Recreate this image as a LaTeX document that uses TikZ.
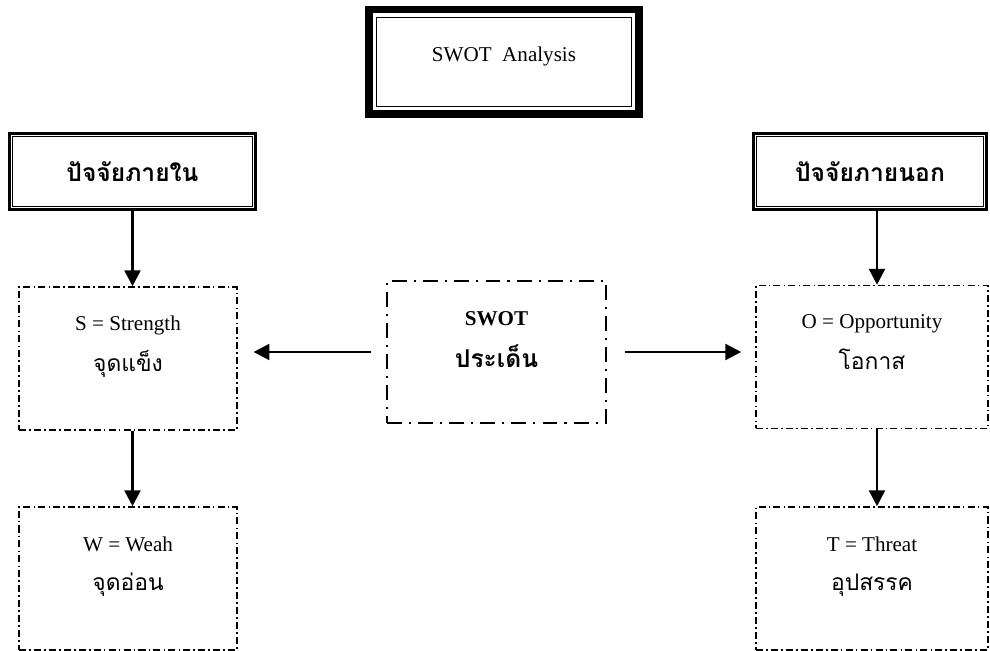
\documentclass[tikz,border=0pt]{standalone}
\usepackage{fontspec}
\setmainfont{Liberation Serif}
\newfontfamily\thaifont[Script=Thai]{Loma}
\newcommand{\thaibig}[1]{{\thaifont\fontsize{13}{15}\selectfont #1}}
\usetikzlibrary{arrows.meta,positioning}

\begin{document}
\begin{tikzpicture}[x=0.02cm, y=-0.02cm, font=\fontsize{12}{14}\selectfont]
    \tikzstyle{titlebox} = [rectangle, draw, line width=0.9pt, minimum width=5.1cm,
                            minimum height=1.78cm, text depth=8.5pt]
    \tikzstyle{header} = [rectangle, draw, line width=1.7pt, minimum height=1.52cm,
                          font=\thaifont\bfseries\fontsize{14}{16}\selectfont]
    \tikzstyle{factor} = [rectangle, draw, line width=0.9pt, align=center,
                          dash pattern=on 4pt off 1.8pt on 0.9pt off 1.8pt,
                          minimum height=2.86cm, text depth=17pt]
    \tikzstyle{issue} = [factor, line width=1.6pt, font=\bfseries\fontsize{12}{14}\selectfont,
                         dash pattern=on 8.5pt off 4pt on 1.2pt off 4pt]
    \tikzstyle{arrow} = [-{Triangle[length=9pt, width=9pt]}, line width=1.5pt]

    \useasboundingbox (0,0) rectangle (990,651);

    % Title
    \node[titlebox] (heading) at (504,62) {SWOT\ \ Analysis};
    \draw[line width=4.3pt] ([shift={(-7,7)}]heading.south west) rectangle ([shift={(7,-7)}]heading.north east);

    % Factor headers
    \node[header, minimum width=4.92cm] (inner) at (132.5,171.5) {ปัจจัยภายใน};
    \node[header, minimum width=4.66cm] (outer) at (870,171.5) {ปัจจัยภายนอก};
    \draw[line width=0.7pt] ([shift={(4.6,-4.6)}]inner.south west) rectangle ([shift={(-4.6,4.6)}]inner.north east);
    \draw[line width=0.7pt] ([shift={(4.6,-4.6)}]outer.south west) rectangle ([shift={(-4.6,4.6)}]outer.north east);

    % SWOT boxes
    \node[factor, minimum width=4.36cm] (strength) at (128,358.5) {S = Strength\\[8pt]\thaibig{จุดแข็ง}};
    \node[factor, minimum width=4.36cm] (weakness) at (128,578.5) {W = Weah\\[8pt]\thaibig{จุดอ่อน}};
    \node[factor, minimum width=4.64cm] (opportunity) at (872,357) {O = Opportunity\\[8pt]\thaibig{โอกาส}};
    \node[factor, minimum width=4.64cm] (threat) at (872,578.5) {T = Threat\\[8pt]\thaibig{อุปสรรค}};
    \node[issue, minimum width=4.38cm, minimum height=2.84cm, text depth=14pt] (issue) at (496.5,352)
        {SWOT\\[10pt]{\thaifont\bfseries\fontsize{14}{16}\selectfont ประเด็น}};

    % Arrows
    \draw[arrow] (inner.south) -- (inner.south |- strength.north);
    \draw[arrow] (strength.south -| inner.south) -- (weakness.north -| inner.south);
    \draw[arrow] ([xshift=0.14cm]outer.south) -- ([xshift=0.14cm]outer.south |- opportunity.north);
    \draw[arrow] ([xshift=0.14cm]opportunity.south -| outer.south) -- ([xshift=0.14cm]threat.north -| outer.south);
    \draw[arrow, shorten <=8.5pt, shorten >=9pt] (issue.west) -- (issue.west -| strength.east);
    \draw[arrow, shorten <=10pt, shorten >=8pt] (issue.east) -- (issue.east -| opportunity.west);
\end{tikzpicture}
\end{document}
